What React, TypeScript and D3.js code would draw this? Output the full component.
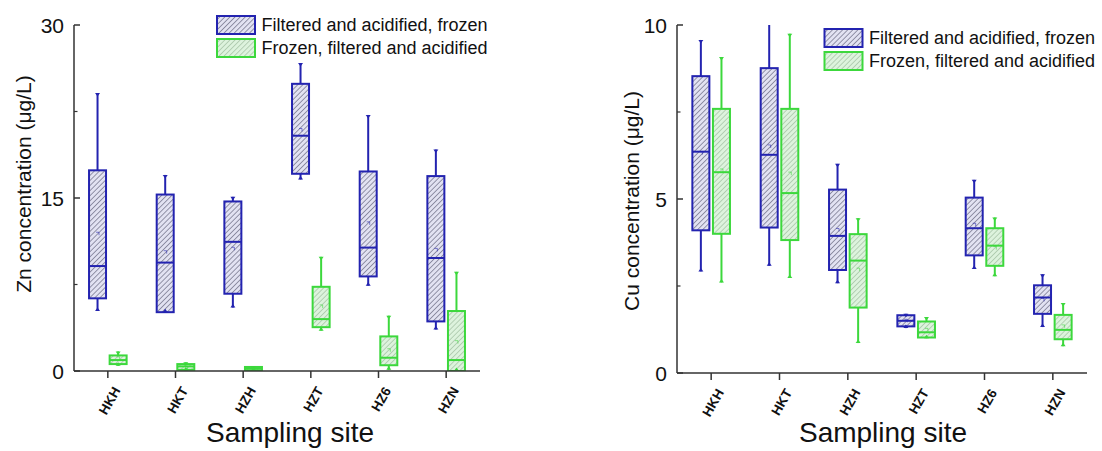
import React from 'react'
import * as d3 from 'd3'

const sites = ['HKH', 'HKT', 'HZH', 'HZT', 'HZ6', 'HZN']
const seriesNames = ['Filtered and acidified, frozen', 'Frozen, filtered and acidified']

// each entry: [min, Q1, median, Q3, max, mean]
const znFilteredFirst = [
  [5.2, 6.3, 9.1, 17.4, 24.1, 11.9],
  [5.1, 5.1, 9.4, 15.3, 17.0, 10.3],
  [5.5, 6.7, 11.2, 14.7, 15.1, 10.6],
  [16.6, 17.1, 20.4, 24.9, 26.7, 20.9],
  [7.4, 8.2, 10.7, 17.3, 22.2, 12.8],
  [3.6, 4.3, 9.8, 16.9, 19.2, 10.5],
]
const znFrozenFirst = [
  [0.45, 0.6, 0.95, 1.35, 1.7, 1.1],
  [0.05, 0.1, 0.4, 0.6, 0.75, 0.3],
  [0.0, 0.05, 0.2, 0.35, 0.4, 0.2],
  [3.5, 3.8, 4.5, 7.3, 9.9, 5.6],
  [0.1, 0.5, 1.15, 3.0, 4.8, 1.8],
  [0.0, 0.0, 0.95, 5.2, 8.6, 2.5],
]
const cuFilteredFirst = [
  [2.92, 4.1, 6.36, 8.53, 9.57, 6.32],
  [3.08, 4.18, 6.27, 8.76, 10.4, 6.51],
  [2.58, 2.96, 3.94, 5.27, 6.01, 4.11],
  [1.29, 1.34, 1.5, 1.66, 1.7, 1.5],
  [2.99, 3.38, 4.16, 5.04, 5.55, 4.26],
  [1.32, 1.7, 2.17, 2.52, 2.84, 2.1],
]
const cuFrozenFirst = [
  [2.6, 4.0, 5.77, 7.59, 9.08, 5.82],
  [2.73, 3.82, 5.17, 7.59, 9.75, 5.73],
  [0.86, 1.88, 3.23, 3.99, 4.45, 2.97],
  [1.0, 1.02, 1.17, 1.48, 1.61, 1.24],
  [2.78, 3.08, 3.66, 4.16, 4.47, 3.59],
  [0.77, 0.97, 1.24, 1.67, 2.01, 1.34],
]
const znTicks = [0, 15, 30]
const znMinorTicks = [7.5, 22.5]
const cuTicks = [0, 5, 10]
const cuMinorTicks = [2.5, 7.5]

const FONT = '"Liberation Sans", Arial, sans-serif'
const BLUE = '#2323b0'
const GREEN = '#3cd83c'
const AXIS = '#333'
const boxW = 17
const boxOff = 10.3

const BoxPlot = ({ cx, stats, y, color, fill }) => {
  const [lo, q1, med, q3, hi, mean] = stats
  const yHi = y(hi), yLo = y(lo)
  return (
    <g>
      <line x1={cx} x2={cx} y1={yHi} y2={y(q3)} stroke={color} strokeWidth={2} />
      <line x1={cx} x2={cx} y1={y(q1)} y2={yLo} stroke={color} strokeWidth={2} />
      <rect x={cx - boxW / 2} y={y(q3)} width={boxW} height={Math.max(y(q1) - y(q3), 0.5)}
        fill={fill} stroke={color} strokeWidth={2} />
      <line x1={cx - boxW / 2} x2={cx + boxW / 2} y1={y(med)} y2={y(med)} stroke={color} strokeWidth={2} />
      <path d={`M${cx - 1.5},${y(mean) - 1.5}h3v3`} fill="none" stroke={color} strokeWidth={0.8} opacity={0.7} />
      <path d={`M${cx - 2.5},${yHi}L${cx + 2.5},${yHi}L${cx},${yHi + 3.5}Z`} fill={color} />
      <path d={`M${cx - 2.5},${yLo}L${cx + 2.5},${yLo}L${cx},${yLo - 3.5}Z`} fill={color} />
    </g>
  )
}

const Panel = ({ id, left, right, top, bottom, yMax, ticks, minorTicks, yLabel, blue, green,
  legendX, legendY, yLabelX, yLabelY, xLabelX }) => {
  const x = d3.scaleBand().domain(sites).range([left, right])
  const y = d3.scaleLinear().domain([0, yMax]).range([bottom, top])
  const centre = (s) => x(s) + x.bandwidth() / 2
  return (
    <g>
      <clipPath id={`clip-${id}`}>
        <rect x={left} y={top} width={right - left} height={bottom - top} />
      </clipPath>
      <g clipPath={`url(#clip-${id})`}>
        {sites.map((s, i) => (
          <g key={s}>
            <BoxPlot cx={centre(s) - boxOff} stats={blue[i]} y={y} color={BLUE} fill="url(#hatchBlue)" />
            <BoxPlot cx={centre(s) + boxOff} stats={green[i]} y={y} color={GREEN} fill="url(#hatchGreen)" />
          </g>
        ))}
      </g>
      {/* axes */}
      <line x1={left} x2={left} y1={top} y2={bottom} stroke={AXIS} strokeWidth={1.5} />
      <line x1={left} x2={right} y1={bottom} y2={bottom} stroke={AXIS} strokeWidth={1.5} />
      {ticks.map(t => (
        <g key={t}>
          <line x1={left} x2={left + 6} y1={y(t)} y2={y(t)} stroke={AXIS} strokeWidth={1.5} />
          <text x={left - 10} y={y(t)} dy="0.36em" textAnchor="end" fontSize={21} fill="#111">{t}</text>
        </g>
      ))}
      {minorTicks.map(t => (
        <line key={t} x1={left} x2={left + 3.5} y1={y(t)} y2={y(t)} stroke={AXIS} strokeWidth={1.2} />
      ))}
      {sites.map(s => (
        <g key={s}>
          <line x1={centre(s)} x2={centre(s)} y1={bottom} y2={bottom + 7} stroke={AXIS} strokeWidth={1.5} />
          <text transform={`translate(${centre(s) + 9},${bottom + 17}) rotate(-60)`} textAnchor="end"
            dy="0.35em" fontSize={13.5} fontWeight="bold" fill="#111">{s}</text>
        </g>
      ))}
      <text x={xLabelX} y={442} textAnchor="middle" fontSize={28} fill="#111">Sampling site</text>
      <text transform={`translate(${yLabelX},${yLabelY}) rotate(-90)`} textAnchor="middle" dy="0.35em"
        fontSize={21} fill="#111">{yLabel}</text>
      {/* legend */}
      {seriesNames.map((n, i) => (
        <g key={n} transform={`translate(${legendX},${legendY + i * 23})`}>
          <rect x={1} y={1} width={38} height={18} fill={i === 0 ? 'url(#hatchBlue)' : 'url(#hatchGreen)'}
            stroke={i === 0 ? BLUE : GREEN} strokeWidth={2} />
          <text x={45.5} y={10} dy="0.35em" fontSize={18} fill="#111">{n}</text>
        </g>
      ))}
    </g>
  )
}

export default function App() {
  return (
    <svg width={1102} height={451} style={{ position: 'absolute', left: 0, top: 0, background: '#fff' }}
      fontFamily={FONT}>
      <defs>
        <pattern id="hatchBlue" patternUnits="userSpaceOnUse" width={3.6} height={3.6} patternTransform="rotate(45)">
          <rect width={3.6} height={3.6} fill="#e2e2f2" />
          <line x1={0} y1={0} x2={0} y2={3.6} stroke="#50506a" strokeWidth={1.1} />
        </pattern>
        <pattern id="hatchGreen" patternUnits="userSpaceOnUse" width={3.6} height={3.6} patternTransform="rotate(45)">
          <rect width={3.6} height={3.6} fill="#ddf3dd" />
          <line x1={0} y1={0} x2={0} y2={3.6} stroke="#94b494" strokeWidth={1.1} />
        </pattern>
      </defs>
      <rect width={1102} height={451} fill="#fff" />
      <Panel id="zn" left={74} right={480} top={25} bottom={371} yMax={30} ticks={znTicks}
        minorTicks={znMinorTicks} yLabel="Zn concentration (μg/L)" blue={znFilteredFirst} green={znFrozenFirst}
        legendX={216} legendY={15} yLabelX={24} yLabelY={184} xLabelX={290} />
      <Panel id="cu" left={677} right={1087} top={25} bottom={373} yMax={10} ticks={cuTicks}
        minorTicks={cuMinorTicks} yLabel="Cu concentration (μg/L)" blue={cuFilteredFirst} green={cuFrozenFirst}
        legendX={823.5} legendY={28} yLabelX={632} yLabelY={201} xLabelX={883} />
    </svg>
  )
}
